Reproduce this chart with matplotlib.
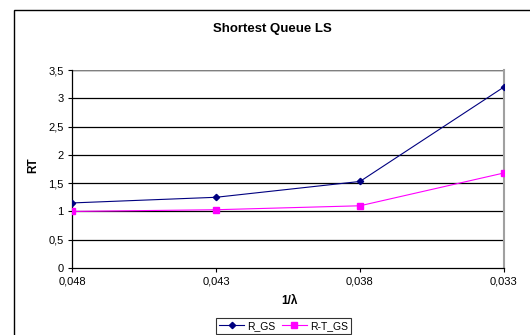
import matplotlib
matplotlib.use("Agg")
import matplotlib.pyplot as plt
from matplotlib.patches import Rectangle

plt.rcParams['font.family'] = ['Liberation Sans', 'DejaVu Sans']

categories = ["0,048", "0,043", "0,038", "0,033"]
r_gs = [1.15, 1.25, 1.53, 3.2]
rt_gs = [1.0, 1.03, 1.1, 1.68]
y_ticks = [0, 0.5, 1, 1.5, 2, 2.5, 3, 3.5]
y_tick_labels = ["0", "0,5", "1", "1,5", "2", "2,5", "3", "3,5"]

W, H = 530, 335
fig = plt.figure(figsize=(W / 100, H / 100), dpi=100)

# outer chart frame (runs off the right and bottom edges)
fig.patches.append(Rectangle((14 / W, -0.05), 1.2, 1 - 10 / H + 0.05,
                             transform=fig.transFigure, fill=False,
                             edgecolor="black", linewidth=1.0))

ax = fig.add_axes([72 / W, 1 - 268 / H, (504 - 72) / W, (268 - 70) / H])
x = list(range(len(categories)))

for yv in y_ticks[1:]:
    ax.axhline(yv, color="black", linewidth=0.9, zorder=1)

ax.plot(x, r_gs, color="#000080", marker="D", markersize=3.2, linewidth=0.8,
        label="R_GS", zorder=3)
ax.plot(x, rt_gs, color="#FF00FF", marker="s", markersize=4, linewidth=0.8,
        label="R-T_GS", zorder=3)

ax.set_xlim(0, 3)
ax.set_ylim(0, 3.5)
ax.set_xticks(x)
ax.set_xticklabels(categories, fontsize=8)
ax.set_yticks(y_ticks)
ax.set_yticklabels(y_tick_labels, fontsize=8)
ax.tick_params(direction="out", length=3, width=0.8, pad=3)

for s in ["left", "bottom"]:
    ax.spines[s].set_color("black")
    ax.spines[s].set_linewidth(0.9)
ax.spines["right"].set_color("#a0a0a0")
ax.spines["right"].set_linewidth(1.5)
ax.spines["top"].set_visible(False)
ax.axhline(3.5, color="#808080", linewidth=1.0, zorder=1)

fig.text(272 / W, 1 - 29 / H, "Shortest Queue LS", ha="center", va="center",
         fontsize=9.5, fontweight="bold")
fig.text(289 / W, 1 - 301 / H, "1/λ", ha="center", va="center",
         fontsize=8.5, fontweight="bold")
fig.text(33 / W, 1 - 165 / H, "RT", ha="center", va="center", rotation=90,
         fontsize=8.5, fontweight="bold")

leg = fig.legend(loc="upper left", bbox_to_anchor=(216 / W, 1 - 318 / H),
                 ncol=2, fontsize=7.5, frameon=True, fancybox=False,
                 edgecolor="black", handlelength=2.4, columnspacing=0.6,
                 borderpad=0.3, handletextpad=0.3, borderaxespad=0)
leg.get_frame().set_linewidth(0.8)

fig.savefig("out.png", dpi=100)
